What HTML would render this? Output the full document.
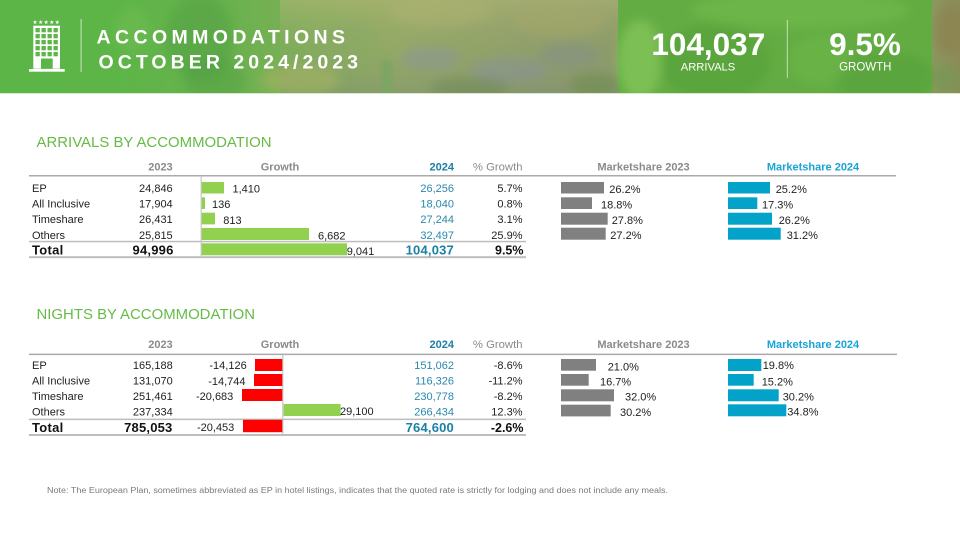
<!DOCTYPE html>
<html><head><meta charset="utf-8"><style>
html,body{margin:0;padding:0;background:#fff;}
svg{display:block;}
text{font-family:"Liberation Sans",Arial,sans-serif;}
</style></head><body>
<svg width="960" height="540" viewBox="0 0 960 540" xmlns="http://www.w3.org/2000/svg">
<defs>
<linearGradient id="bg" x1="0" y1="0" x2="1" y2="0">
<stop offset="0" stop-color="#5cb547"/>
<stop offset="0.12" stop-color="#5db547"/>
<stop offset="0.24" stop-color="#6ab24e"/>
<stop offset="0.34" stop-color="#82ae5a"/>
<stop offset="0.42" stop-color="#93aa63"/>
<stop offset="0.55" stop-color="#8e9e6a"/>
<stop offset="0.64" stop-color="#8a9a68"/>
<stop offset="0.97" stop-color="#8c9860"/>
<stop offset="1" stop-color="#8d8a57"/>
</linearGradient>
<linearGradient id="vg" x1="0" y1="0" x2="0" y2="1">
<stop offset="0" stop-color="#b4b676" stop-opacity="0.55"/>
<stop offset="0.5" stop-color="#9aa470" stop-opacity="0.2"/>
<stop offset="1" stop-color="#7f8c74" stop-opacity="0.45"/>
</linearGradient>
<filter id="bl" x="-20%" y="-20%" width="140%" height="140%"><feGaussianBlur stdDeviation="5"/></filter>
<filter id="bl2" x="-20%" y="-20%" width="140%" height="140%"><feGaussianBlur stdDeviation="2"/></filter>
<clipPath id="cb"><rect x="0" y="0" width="960" height="93"/></clipPath>
</defs>

<!-- Banner -->
<g clip-path="url(#cb)">
<rect x="0" y="0" width="960" height="93" fill="url(#bg)"/>
<rect x="280" y="0" width="340" height="93" fill="url(#vg)"/>
<g filter="url(#bl)">
<ellipse cx="200" cy="38" rx="34" ry="44" fill="#52a041" opacity="0.55"/>
<ellipse cx="215" cy="80" rx="30" ry="22" fill="#52a041" opacity="0.5"/>
<ellipse cx="132" cy="30" rx="18" ry="22" fill="#6fbd52" opacity="0.5"/>
<ellipse cx="300" cy="80" rx="40" ry="15" fill="#a6b262" opacity="0.6"/>
<ellipse cx="440" cy="12" rx="50" ry="14" fill="#b0b272" opacity="0.45"/>
<ellipse cx="560" cy="22" rx="45" ry="14" fill="#aaa86a" opacity="0.4"/>
<ellipse cx="430" cy="58" rx="30" ry="12" fill="#8a93a0" opacity="0.45"/>
<ellipse cx="510" cy="70" rx="40" ry="12" fill="#8891a0" opacity="0.45"/>
<ellipse cx="570" cy="55" rx="30" ry="12" fill="#7f8a90" opacity="0.4"/>
<ellipse cx="470" cy="88" rx="40" ry="10" fill="#6f8a58" opacity="0.6"/>
<ellipse cx="595" cy="85" rx="25" ry="12" fill="#6e8e50" opacity="0.6"/>
<ellipse cx="350" cy="40" rx="30" ry="20" fill="#8aa86a" opacity="0.4"/>
<ellipse cx="948" cy="30" rx="14" ry="25" fill="#8a8150" opacity="0.7"/>
<ellipse cx="948" cy="78" rx="14" ry="14" fill="#6f9a52" opacity="0.6"/>
</g>
<rect x="381" y="60" width="12" height="40" rx="5" fill="#7ea565" filter="url(#bl2)"/>
<rect x="618" y="0" width="314" height="93" fill="#5fae40" opacity="0.92"/>
<g filter="url(#bl)">
<ellipse cx="800" cy="10" rx="110" ry="18" fill="#78c150" opacity="0.45"/>
<ellipse cx="640" cy="60" rx="22" ry="40" fill="#86c85c" opacity="0.7"/>
<ellipse cx="715" cy="62" rx="55" ry="38" fill="#4e9c37" opacity="0.45"/>
<ellipse cx="885" cy="78" rx="50" ry="26" fill="#4e9c37" opacity="0.4"/>
<ellipse cx="820" cy="60" rx="30" ry="25" fill="#74bb4c" opacity="0.4"/>
</g>
</g>
<rect x="0" y="93" width="960" height="1" fill="#d6ebcd"/>

<!-- Logo -->
<text x="32.5" y="23.8" font-size="5.6" fill="#fff" letter-spacing="0.55" style="font-family:'DejaVu Sans',sans-serif">★★★★★</text>
<rect x="33.3" y="25.7" width="26.7" height="43" fill="#fff"/>
<g fill="#5cb547">
<rect x="35.5" y="28" width="4.3" height="4.3"/><rect x="41.5" y="28" width="4.3" height="4.3"/><rect x="47.5" y="28" width="4.3" height="4.3"/><rect x="53.5" y="28" width="4.3" height="4.3"/>
<rect x="35.5" y="34" width="4.3" height="4.3"/><rect x="41.5" y="34" width="4.3" height="4.3"/><rect x="47.5" y="34" width="4.3" height="4.3"/><rect x="53.5" y="34" width="4.3" height="4.3"/>
<rect x="35.5" y="40" width="4.3" height="4.3"/><rect x="41.5" y="40" width="4.3" height="4.3"/><rect x="47.5" y="40" width="4.3" height="4.3"/><rect x="53.5" y="40" width="4.3" height="4.3"/>
<rect x="35.5" y="46" width="4.3" height="4.3"/><rect x="41.5" y="46" width="4.3" height="4.3"/><rect x="47.5" y="46" width="4.3" height="4.3"/><rect x="53.5" y="46" width="4.3" height="4.3"/>
<rect x="35.5" y="52" width="4.3" height="4.3"/><rect x="41.5" y="52" width="4.3" height="4.3"/><rect x="47.5" y="52" width="4.3" height="4.3"/><rect x="53.5" y="52" width="4.3" height="4.3"/>
<rect x="41" y="58.5" width="11.7" height="10.2"/>
</g>
<rect x="29" y="69" width="35.7" height="2.7" fill="#fff"/>
<rect x="80.5" y="19" width="1.2" height="53" fill="#fff" opacity="0.55"/>

<!-- Title -->
<text x="96.5" y="43.3" font-size="19.5" font-weight="bold" fill="#fff" textLength="248.5" lengthAdjust="spacing">ACCOMMODATIONS</text>
<text x="98.5" y="68.3" font-size="19.5" font-weight="bold" fill="#fff" textLength="259.5" lengthAdjust="spacing">OCTOBER 2024/2023</text>

<!-- Stats -->
<text x="708.3" y="55" font-size="31.5" font-weight="bold" fill="#fff" text-anchor="middle">104,037</text>
<text x="708" y="70.7" font-size="11.2" fill="#fff" text-anchor="middle">ARRIVALS</text>
<rect x="786.8" y="20" width="1.1" height="58" fill="#fff" opacity="0.55"/>
<text x="865" y="55" font-size="31.5" font-weight="bold" fill="#fff" text-anchor="middle">9.5%</text>
<text x="865.3" y="70.7" font-size="11.5" fill="#fff" text-anchor="middle">GROWTH</text>

<!-- ===== ARRIVALS ===== -->
<text x="36.5" y="147" font-size="15" fill="#66bb46" textLength="235" lengthAdjust="spacingAndGlyphs">ARRIVALS BY ACCOMMODATION</text>
<g font-size="11" font-weight="bold" fill="#8a8a8a">
<text x="172.7" y="170.4" text-anchor="end">2023</text>
<text x="280" y="170.4" text-anchor="middle">Growth</text>
<text x="454" y="170.4" text-anchor="end" fill="#1a80a6">2024</text>
<text x="522.5" y="170.4" text-anchor="end" font-weight="normal" fill="#8a8a8a" font-size="11.3">% Growth</text>
<text x="643.5" y="170.5" text-anchor="middle">Marketshare 2023</text>
<text x="813" y="170.5" text-anchor="middle" fill="#19a4d4">Marketshare 2024</text>
</g>
<rect x="29" y="175" width="867" height="1.5" fill="#ababab"/>
<rect x="29" y="240.8" width="497" height="1.5" fill="#bdbdbd"/>
<rect x="29" y="256.2" width="497" height="2" fill="#bdbdbd"/>
<rect x="200.6" y="176" width="1.2" height="82" fill="#c4c4c4"/>

<g fill="#92d050">
<rect x="201.7" y="182" width="22.3" height="11.5"/>
<rect x="201.7" y="197.3" width="3.3" height="11.7"/>
<rect x="201.7" y="212.7" width="13.3" height="11.7"/>
<rect x="201.7" y="228" width="107.3" height="12"/>
<rect x="201.7" y="243.3" width="145.3" height="12"/>
</g>
<g font-size="11" fill="#222">
<text x="32" y="192">EP</text>
<text x="32" y="207.7">All Inclusive</text>
<text x="32" y="223.2">Timeshare</text>
<text x="32" y="238.8">Others</text>
<text x="172.7" y="192" text-anchor="end">24,846</text>
<text x="172.7" y="207.7" text-anchor="end">17,904</text>
<text x="172.7" y="223.2" text-anchor="end">26,431</text>
<text x="172.7" y="238.8" text-anchor="end">25,815</text>
<text x="232.5" y="192.7">1,410</text>
<text x="212" y="207.9">136</text>
<text x="223.3" y="224">813</text>
<text x="318" y="239.3">6,682</text>
<text x="346.7" y="255">9,041</text>
<text x="522.5" y="192" text-anchor="end">5.7%</text>
<text x="522.5" y="207.7" text-anchor="end">0.8%</text>
<text x="522.5" y="223.2" text-anchor="end">3.1%</text>
<text x="522.5" y="238.8" text-anchor="end">25.9%</text>
</g>
<g font-size="11" fill="#2a88ad">
<text x="454" y="192" text-anchor="end">26,256</text>
<text x="454" y="207.7" text-anchor="end">18,040</text>
<text x="454" y="223.2" text-anchor="end">27,244</text>
<text x="454" y="238.8" text-anchor="end">32,497</text>
</g>
<g font-weight="bold">
<text x="32" y="254.3" font-size="13" fill="#111" letter-spacing="0.3">Total</text>
<text x="173.5" y="254.3" font-size="13" fill="#111" text-anchor="end" letter-spacing="0.2">94,996</text>
<text x="454" y="254.3" font-size="13" fill="#1a80a6" text-anchor="end" letter-spacing="0.2">104,037</text>
<text x="523.5" y="254.3" font-size="12.5" fill="#111" text-anchor="end">9.5%</text>
</g>

<g fill="#808080">
<rect x="561" y="182" width="43" height="11.5"/>
<rect x="561" y="197.3" width="31" height="11.7"/>
<rect x="561" y="212.7" width="46.7" height="12"/>
<rect x="561" y="227.7" width="44.7" height="12"/>
</g>
<g fill="#03a2c9">
<rect x="728" y="182" width="42" height="11.5"/>
<rect x="728" y="197.3" width="29.3" height="11.7"/>
<rect x="728" y="212.7" width="44" height="12"/>
<rect x="728" y="227.7" width="52.7" height="12"/>
</g>
<g font-size="11" fill="#222">
<text x="609.3" y="193.2">26.2%</text>
<text x="601" y="208.3">18.8%</text>
<text x="611.7" y="224">27.8%</text>
<text x="610.3" y="239">27.2%</text>
<text x="775.7" y="193.2">25.2%</text>
<text x="762" y="208.3">17.3%</text>
<text x="778.7" y="224">26.2%</text>
<text x="786.7" y="239">31.2%</text>
</g>

<!-- ===== NIGHTS ===== -->
<text x="36.5" y="319" font-size="15" fill="#66bb46" textLength="218.5" lengthAdjust="spacingAndGlyphs">NIGHTS BY ACCOMMODATION</text>
<g font-size="11" font-weight="bold" fill="#8a8a8a">
<text x="172.7" y="347.8" text-anchor="end">2023</text>
<text x="280" y="347.8" text-anchor="middle">Growth</text>
<text x="454" y="347.8" text-anchor="end" fill="#1a80a6">2024</text>
<text x="522.5" y="347.8" text-anchor="end" font-weight="normal" fill="#8a8a8a" font-size="11.3">% Growth</text>
<text x="643.5" y="348.2" text-anchor="middle">Marketshare 2023</text>
<text x="813" y="348.2" text-anchor="middle" fill="#19a4d4">Marketshare 2024</text>
</g>
<rect x="29" y="353.6" width="868" height="1.5" fill="#ababab"/>
<rect x="29" y="418.6" width="497" height="1.5" fill="#bdbdbd"/>
<rect x="29" y="434" width="497" height="2" fill="#bdbdbd"/>
<rect x="282.2" y="355" width="1.2" height="80" fill="#c4c4c4"/>

<g fill="#ff0000">
<rect x="255" y="359" width="27.3" height="12"/>
<rect x="254" y="374" width="28.3" height="12"/>
<rect x="242" y="389" width="40.3" height="12"/>
<rect x="243" y="419.8" width="39.3" height="12.4"/>
</g>
<rect x="283.6" y="404" width="57" height="12" fill="#92d050"/>

<g font-size="11" fill="#222">
<text x="32" y="369">EP</text>
<text x="32" y="384.5">All Inclusive</text>
<text x="32" y="400">Timeshare</text>
<text x="32" y="415.7">Others</text>
<text x="172.7" y="369" text-anchor="end">165,188</text>
<text x="172.7" y="384.5" text-anchor="end">131,070</text>
<text x="172.7" y="400" text-anchor="end">251,461</text>
<text x="172.7" y="415.7" text-anchor="end">237,334</text>
<text x="246.7" y="369" text-anchor="end">-14,126</text>
<text x="245.5" y="385" text-anchor="end">-14,744</text>
<text x="233.3" y="400" text-anchor="end">-20,683</text>
<text x="340" y="415.2">29,100</text>
<text x="234.3" y="431" text-anchor="end">-20,453</text>
<text x="522.5" y="369" text-anchor="end">-8.6%</text>
<text x="522.5" y="384.5" text-anchor="end">-11.2%</text>
<text x="522.5" y="400" text-anchor="end">-8.2%</text>
<text x="522.5" y="415.7" text-anchor="end">12.3%</text>
</g>
<g font-size="11" fill="#2a88ad">
<text x="454" y="369" text-anchor="end">151,062</text>
<text x="454" y="384.5" text-anchor="end">116,326</text>
<text x="454" y="400" text-anchor="end">230,778</text>
<text x="454" y="415.7" text-anchor="end">266,434</text>
</g>
<g font-weight="bold">
<text x="32" y="431.8" font-size="13" fill="#111" letter-spacing="0.3">Total</text>
<text x="172.5" y="431.8" font-size="13" fill="#111" text-anchor="end" letter-spacing="0.2">785,053</text>
<text x="454" y="431.8" font-size="13" fill="#1a80a6" text-anchor="end" letter-spacing="0.2">764,600</text>
<text x="523.5" y="431.8" font-size="12.5" fill="#111" text-anchor="end">-2.6%</text>
</g>

<g fill="#808080">
<rect x="561" y="359" width="35" height="11.7"/>
<rect x="561" y="374" width="27.7" height="11.7"/>
<rect x="561" y="389.3" width="53" height="12"/>
<rect x="561" y="404.7" width="49.7" height="11.7"/>
</g>
<g fill="#03a2c9">
<rect x="728" y="359" width="33.3" height="12"/>
<rect x="728" y="374" width="25.7" height="11.7"/>
<rect x="728" y="389.3" width="50.7" height="12"/>
<rect x="728" y="404.3" width="58.3" height="12"/>
</g>
<g font-size="11" fill="#222">
<text x="607.7" y="370.7">21.0%</text>
<text x="600" y="385.7">16.7%</text>
<text x="625" y="400.7">32.0%</text>
<text x="620" y="416">30.2%</text>
<text x="762.7" y="369">19.8%</text>
<text x="761.7" y="385.7">15.2%</text>
<text x="782.7" y="400.7">30.2%</text>
<text x="787.3" y="415.7">34.8%</text>
</g>

<!-- Note -->
<text x="47" y="493" font-size="8" fill="#7a7a7a" textLength="621" lengthAdjust="spacingAndGlyphs">Note: The European Plan, sometimes abbreviated as EP in hotel listings, indicates that the quoted rate is strictly for lodging and does not include any meals.</text>
</svg>
</body></html>
